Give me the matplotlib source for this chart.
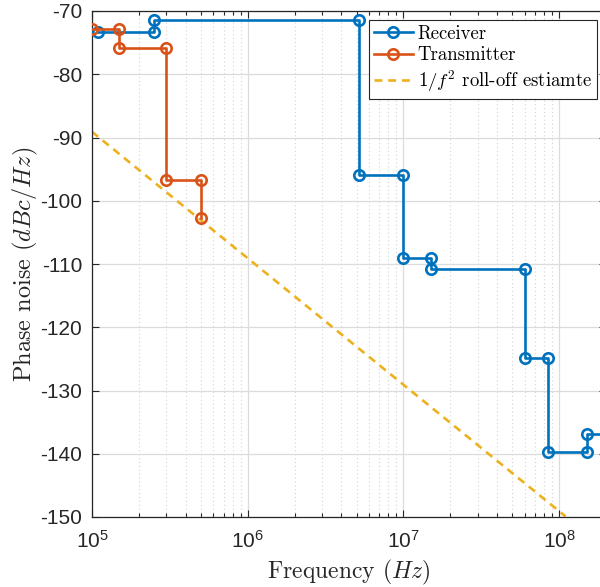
import matplotlib
matplotlib.use("Agg")
import matplotlib.pyplot as plt
from matplotlib.ticker import LogLocator, NullFormatter, FixedLocator

plt.rcParams['mathtext.fontset'] = 'cm'
plt.rcParams['font.family'] = ['Liberation Sans', 'DejaVu Sans']

rx_freq = [1.1e5, 2.5e5, 2.5e5, 5.2e6, 5.2e6, 1e7, 1e7, 1.5e7, 1.5e7, 6e7, 6e7, 8.5e7, 8.5e7, 1.5e8, 1.5e8, 2.6e8]
rx_pn = [-73.3, -73.3, -71.5, -71.5, -96.0, -96.0, -109.0, -109.0, -110.8, -110.8, -124.8, -124.8, -139.8, -139.8, -136.8, -136.8]
tx_freq = [1e5, 1.5e5, 1.5e5, 3e5, 3e5, 5e5, 5e5]
tx_pn = [-72.8, -72.8, -75.8, -75.8, -96.7, -96.7, -102.7]
est_freq = [1e5, 1.1e8]
est_pn = [-89.1, -149.9]

yticks = [-70, -80, -90, -100, -110, -120, -130, -140, -150]
ytick_labels = ['-70', '-80', '-90', '-100', '-110', '-120', '-130', '-140', '-150']

W, H = 600, 587
fig = plt.figure(figsize=(W / 100, H / 100), dpi=100)
x0, x1, ytop, ybot = 92, 92 + 155.7 * 3.30103, 11, 517
ax = fig.add_axes([x0 / W, 1 - ybot / H, (x1 - x0) / W, (ybot - ytop) / H])

c_rx, c_tx, c_est = '#0072BD', '#D95319', '#EDB120'
lw = 1.9
ax.plot(rx_freq, rx_pn, '-o', color=c_rx, lw=lw, ms=7.5, mfc='none', mew=1.9, label=r'Receiver', zorder=3)
ax.plot(tx_freq, tx_pn, '-o', color=c_tx, lw=lw, ms=7.5, mfc='none', mew=1.9, label=r'Transmitter', zorder=3)
ax.plot(est_freq, est_pn, '--', color=c_est, lw=lw, dashes=(3.0, 2.2), label=r'$1/f^2$ roll-off estiamte', zorder=2)

ax.set_xscale('log')
ax.set_xlim(1e5, 2e8)
ax.set_ylim(-150, -70)
ax.yaxis.set_major_locator(FixedLocator(yticks))
ax.set_yticklabels(ytick_labels)
ax.xaxis.set_major_locator(LogLocator(base=10, numticks=10))
ax.xaxis.set_minor_locator(LogLocator(base=10, subs=range(2, 10), numticks=20))
ax.xaxis.set_minor_formatter(NullFormatter())

ax.grid(True, which='major', color='#dcdcdc', lw=0.9, ls='-')
ax.grid(True, which='minor', axis='x', color='#d4d4d4', lw=0.8, ls=(0, (1, 2.5)))
ax.set_axisbelow(True)

ax.tick_params(which='both', direction='in', top=True, right=True, colors='#262626',
               labelcolor='#262626', labelsize=15)
ax.tick_params(which='major', length=5, width=0.8)
ax.tick_params(which='minor', length=3, width=0.8)
ax.tick_params(axis='y', pad=7)
ax.tick_params(axis='x', pad=9)
for s in ax.spines.values():
    s.set_color('#262626')
    s.set_linewidth(0.9)

ax.set_xlabel(r'Frequency $(Hz)$', family='cmr10', fontsize=17, color='#262626', labelpad=5)
ax.set_ylabel(r'Phase noise $(dBc/Hz)$', family='cmr10', fontsize=17.5, color='#262626', labelpad=0)

leg = ax.legend(loc='upper left', bbox_to_anchor=((369 - x0) / (x1 - x0), 1 - 9 / (ybot - ytop)),
                prop={'family': 'cmr10', 'size': 13.5}, frameon=True, fancybox=False,
                edgecolor='#262626', framealpha=1, borderpad=0.25, handlelength=2.1,
                handletextpad=0.25, labelspacing=0.2, borderaxespad=0)
leg.get_frame().set_linewidth(0.8)

fig.savefig('out.png', dpi=100)
